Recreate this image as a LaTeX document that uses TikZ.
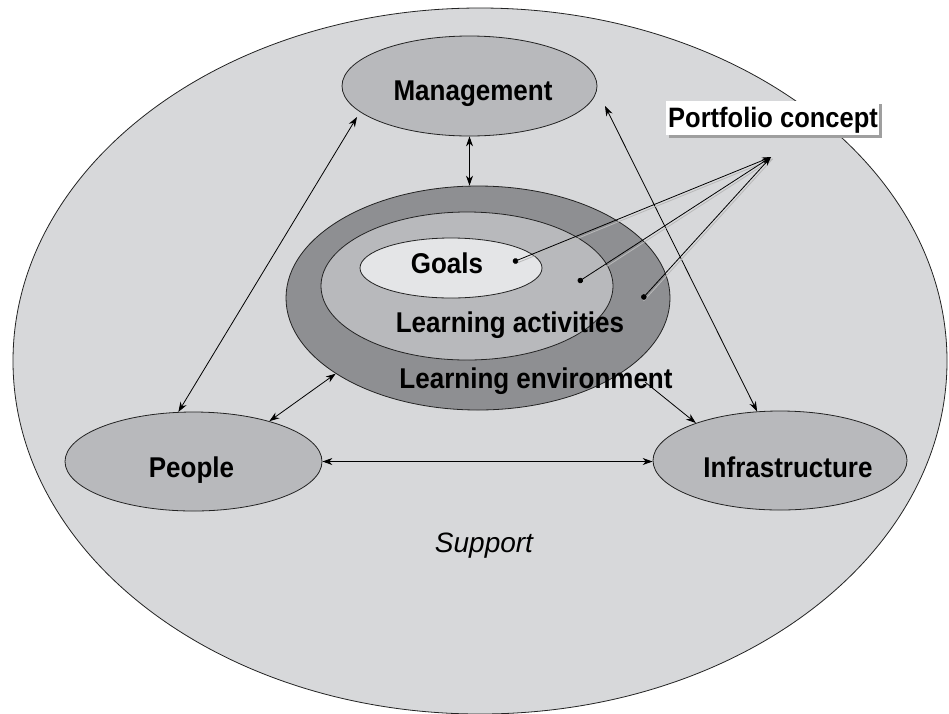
\documentclass[tikz,border=0pt]{standalone}
\usepackage{fontspec}
\setmainfont{Liberation Sans}
\usetikzlibrary{arrows.meta,calc,shapes.geometric}
\definecolor{bgc}{RGB}{215,216,218}
\definecolor{midc}{RGB}{184,185,188}
\definecolor{envc}{RGB}{142,143,146}
\definecolor{actc}{RGB}{184,185,188}
\definecolor{goalc}{RGB}{228,229,231}
\definecolor{edgec}{RGB}{35,35,35}
\newcommand\lbltxt[1]{\scalebox{1}[1.1]{#1}}
\begin{document}
\begin{tikzpicture}[x=1pt,y=-1pt,
  ell/.style={ellipse, draw=edgec, line width=0.8pt, inner sep=0pt},
  lab/.style={anchor=base, inner sep=0pt, font=\fontsize{26}{30}\selectfont\bfseries},
  arr/.style={line width=0.8pt, {Stealth[length=10pt,width=7pt]}-{Stealth[length=10pt,width=7pt]}},
  arrone/.style={line width=0.8pt, -{Stealth[length=10pt,width=7pt]}},
  pline/.style={line width=0.8pt, {Circle[length=5.5pt]}-{Stealth[length=9pt,width=6pt]}},
  pshadow/.style={line width=0.8pt, gray!55}]
\useasboundingbox (0,0) rectangle (949,713);
\fill[white] (0,0) rectangle (949,713);
% outer support ellipse
\node[ell, fill=bgc, minimum width=934pt, minimum height=706pt] (support) at (480,361) {};
% nodes
\node[ell, fill=midc, minimum width=255pt, minimum height=100pt] (mgmt) at (469.5,86) {};
\node[ell, fill=midc, minimum width=257pt, minimum height=99pt] (people) at (193.5,461.5) {};
\node[ell, fill=midc, minimum width=254pt, minimum height=99pt] (infra) at (780,460.5) {};
\node[ell, fill=envc, minimum width=384pt, minimum height=224pt] (env) at (478,298) {};
\node[ell, fill=actc, minimum width=292pt, minimum height=148pt] (act) at (467,286) {};
\node[ell, fill=goalc, minimum width=182pt, minimum height=60pt] (goals) at (451,268) {};
% coordinates for free ends
\coordinate (mtop) at (357,117);
\coordinate (mright) at (605,106);
\coordinate (envout) at (645,382);
\coordinate (apex) at (771,157);
\coordinate (pg) at (513,262);
\coordinate (pa) at (578,282);
\coordinate (pe) at (642,299);
% connectors
\draw[arr] (mtop) -- (people.107);
\draw[arr] (mright) -- (infra.115);
\draw[arr] (mgmt.south) -- (mgmt.south |- env.north);
\draw[arr] (people.28) -- (env.208);
\draw[arrone] (envout) -- (infra.156);
\draw[arr] (people.east) -- (people.east -| infra.west);
% portfolio box
\node[minimum width=212pt, minimum height=33pt, inner sep=0pt] (pbox) at (772.5,118) {};
\fill[gray!75] ($(pbox.south west)+(3,3)$) rectangle ($(pbox.north east)+(3,3)$);
\fill[white] (pbox.south west) rectangle (pbox.north east);
\node[lab, font=\fontsize{25.5}{30}\selectfont\bfseries] (ptxt) at (773,127) {\lbltxt{Portfolio concept}};
% portfolio lines
\foreach \p in {pg,pa,pe} {
  \draw[pshadow] ($(\p)+(1.5,2)$) -- ($(apex)+(1.5,2)$);
  \draw[pline] (\p) -- (apex);
}
% labels
\node[lab] (tmgmt) at (473,100) {\lbltxt{Management}};
\node[lab] (tpeople) at (191.5,477) {\lbltxt{People}};
\node[lab] (tinfra) at (788,477) {\lbltxt{Infrastructure}};
\node[lab] (tgoals) at (447,273) {\lbltxt{Goals}};
\node[lab] (tact) at (510,332) {\lbltxt{Learning activities}};
\node[lab] (tenv) at (536,388) {\lbltxt{Learning environment}};
\node[anchor=base, inner sep=0pt, font=\fontsize{28}{32}\selectfont\itshape] (tsupport) at (484,552) {Support};
\end{tikzpicture}
\end{document}
